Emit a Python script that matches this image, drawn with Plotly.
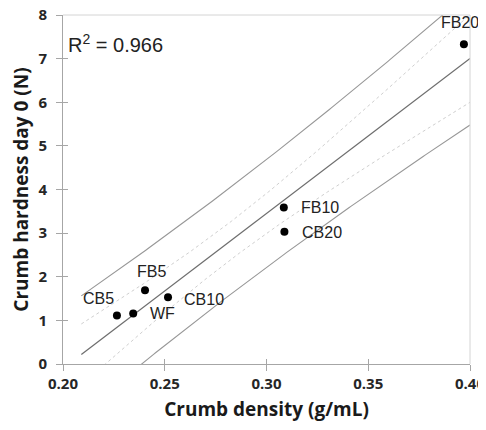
import numpy as np
import plotly.graph_objects as go

# data
labels = ["CB5", "WF", "FB5", "CB10", "FB10", "CB20", "FB20"]
density = [0.2265, 0.2345, 0.2403, 0.2516, 0.3085, 0.3088, 0.397]
hardness = [1.11, 1.16, 1.69, 1.53, 3.59, 3.03, 7.33]
fit_range = [0.209, 0.400]
t_crit = 2.571  # t(0.975, df=5)

# label placement (pixel offsets from each point)
lab_anchor = ["right", "left", "center", "left", "left", "left", "center"]
lab_dx = [-1, 15, 6, 14, 15, 16, -4]
lab_dy = [17, 0, 19, -2, 0, -1, 22]

# ======================================================
# linear fit + 95% confidence / prediction bands
# ======================================================
x = np.array(density)
y = np.array(hardness)
n = len(x)
slope, intercept = np.polyfit(x, y, 1)
resid = y - (slope * x + intercept)
s = np.sqrt((resid ** 2).sum() / (n - 2))
sxx = ((x - x.mean()) ** 2).sum()
r2 = 1 - (resid ** 2).sum() / ((y - y.mean()) ** 2).sum()

xf = np.linspace(fit_range[0], fit_range[1], 200)
yf = slope * xf + intercept
conf = t_crit * s * np.sqrt(1 / n + (xf - x.mean()) ** 2 / sxx)
pred = t_crit * s * np.sqrt(1 + 1 / n + (xf - x.mean()) ** 2 / sxx)

fig = go.Figure()

for band in (pred, -pred):
    fig.add_trace(go.Scatter(x=xf, y=yf + band, mode="lines",
                             line=dict(color="#979797", width=1.1), hoverinfo="skip"))
for band in (conf, -conf):
    fig.add_trace(go.Scatter(x=xf, y=yf + band, mode="lines",
                             line=dict(color="#cfcfcf", width=1, dash="dot"), hoverinfo="skip"))
fig.add_trace(go.Scatter(x=xf, y=yf, mode="lines",
                         line=dict(color="#6e6e6e", width=1.2), hoverinfo="skip"))

fig.add_trace(go.Scatter(x=density, y=hardness, mode="markers",
                         marker=dict(color="black", size=8), cliponaxis=False))

# dummy trace so the overlay axes (inner half of the cross ticks) get drawn
fig.add_trace(go.Scatter(x=[None], y=[None], xaxis="x2", yaxis="y2", showlegend=False))

for lab, xv, yv, anc, dx, dy in zip(labels, density, hardness, lab_anchor, lab_dx, lab_dy):
    fig.add_annotation(x=xv, y=yv, text=lab, showarrow=False, xanchor=anc, yanchor="middle",
                       xshift=dx, yshift=dy,
                       font=dict(family="Liberation Sans, Arial", size=16, color="#222222"))

fig.add_annotation(x=0.2015, y=7.34, xref="x", yref="y", text=f"R<sup>2</sup> = {r2:.3f}",
                   showarrow=False, xanchor="left", yanchor="middle",
                   font=dict(family="Liberation Sans, Arial", size=20, color="#222222"))

tick_font = dict(family="Open Sans", size=15, color="#262626", weight="bold")
title_font = dict(family="Open Sans", size=19, color="#1a1a1a", weight="bold")

# page body has an 8px margin, so the figure is 8px smaller and margins shifted
fig.update_layout(
    width=478, height=422,
    margin=dict(l=55, r=16, t=7, b=66),
    paper_bgcolor="white", plot_bgcolor="white",
    showlegend=False,
    xaxis=dict(
        range=[0.2, 0.4], tickvals=[0.20, 0.25, 0.30, 0.35, 0.40], tickformat=".2f",
        showgrid=False, zeroline=False, showline=True, linecolor="#a6a6a6", linewidth=1,
        ticks="outside", ticklen=6, tickcolor="#a6a6a6", tickfont=tick_font,
        automargin=False, ticklabeloverflow="allow",
        title=dict(text="Crumb density (g/mL)", font=title_font, standoff=10),
    ),
    yaxis=dict(
        range=[0, 8], dtick=1,
        showgrid=False, zeroline=False, showline=True, linecolor="#a6a6a6", linewidth=1,
        ticks="outside", ticklen=6, tickcolor="#a6a6a6", tickfont=tick_font,
        ticklabelstandoff=6, automargin=False, ticklabeloverflow="allow",
        title=dict(text="Crumb hardness day 0 (N)", font=title_font, standoff=8),
    ),
    xaxis2=dict(range=[0.2, 0.4], tickvals=[0.20, 0.25, 0.30, 0.35, 0.40], overlaying="x",
                showgrid=False, zeroline=False, showline=False, showticklabels=False,
                ticks="inside", ticklen=5, tickcolor="#a6a6a6", side="bottom",
                automargin=False),
    yaxis2=dict(range=[0, 8], dtick=1, overlaying="y",
                showgrid=False, zeroline=False, showline=False, showticklabels=False,
                ticks="inside", ticklen=5, tickcolor="#a6a6a6", side="left",
                automargin=False),
)

# lighter top / right frame
fig.add_shape(type="line", xref="paper", yref="paper", x0=0, x1=1, y0=1, y1=1,
              line=dict(color="#d4d4d4", width=1))
fig.add_shape(type="line", xref="paper", yref="paper", x0=1, x1=1, y0=0, y1=1,
              line=dict(color="#d4d4d4", width=1))

fig.write_html("out.html")
